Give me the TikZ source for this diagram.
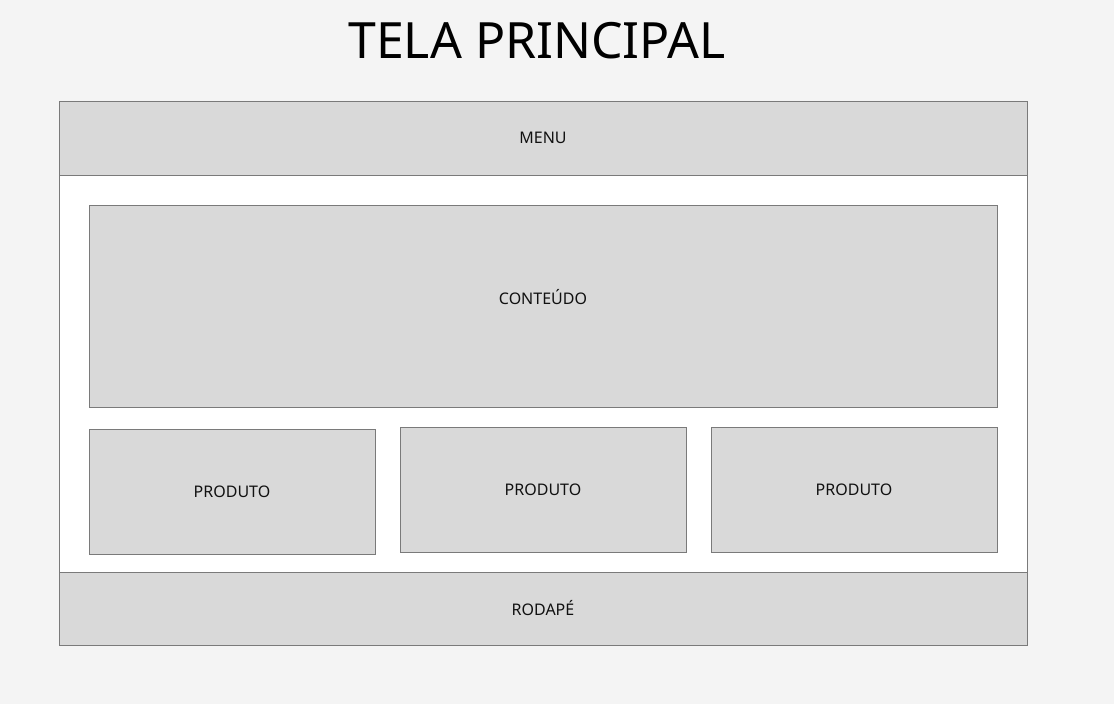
\documentclass[tikz,border=0pt]{standalone}
\usepackage{fontspec}
\setmainfont{Noto Sans}
\usepackage{tikz}

\definecolor{pagebg}{HTML}{F4F4F4}
\definecolor{boxfill}{HTML}{D9D9D9}
\definecolor{boxline}{HTML}{7A7A7A}
\definecolor{inktext}{HTML}{111111}

\tikzset{
  block/.style={draw=boxline, fill=boxfill, line width=1pt, inner sep=0pt,
    text=inktext, font=\fontsize{16}{18}\selectfont},
}

\begin{document}
\begin{tikzpicture}[x=1pt,y=-1pt]
  % page
  \fill[pagebg] (0,0) rectangle (1114,704);
  \useasboundingbox (0,0) rectangle (1114,704);

  % title
  \node[text=black, font=\fontsize{50}{56}\selectfont] (title) at (537,41) {TELA PRINCIPAL};

  % white frame
  \draw[boxline, fill=white, line width=1pt] (59,101) rectangle (1027,645);

  % header and footer bands
  \node[block, minimum width=968pt, minimum height=74pt] (menu) at (543,138) {MENU};
  \node[block, minimum width=968pt, minimum height=73pt] (rodape) at (543,608.5) {RODAPÉ};

  % main content
  \node[block, minimum width=908pt, minimum height=202pt] (conteudo) at (543,306) {};
  \node[text=inktext, font=\fontsize{16}{18}\selectfont] (conteudolabel) at (543,297) {CONTEÚDO};

  % products
  \foreach \px/\py/\name in {232/491.5/produtoA, 543/489.5/produtoB, 854/489.5/produtoC}
    \node[block, minimum width=286pt, minimum height=125pt] (\name) at (\px,\py) {PRODUTO};
\end{tikzpicture}
\end{document}
